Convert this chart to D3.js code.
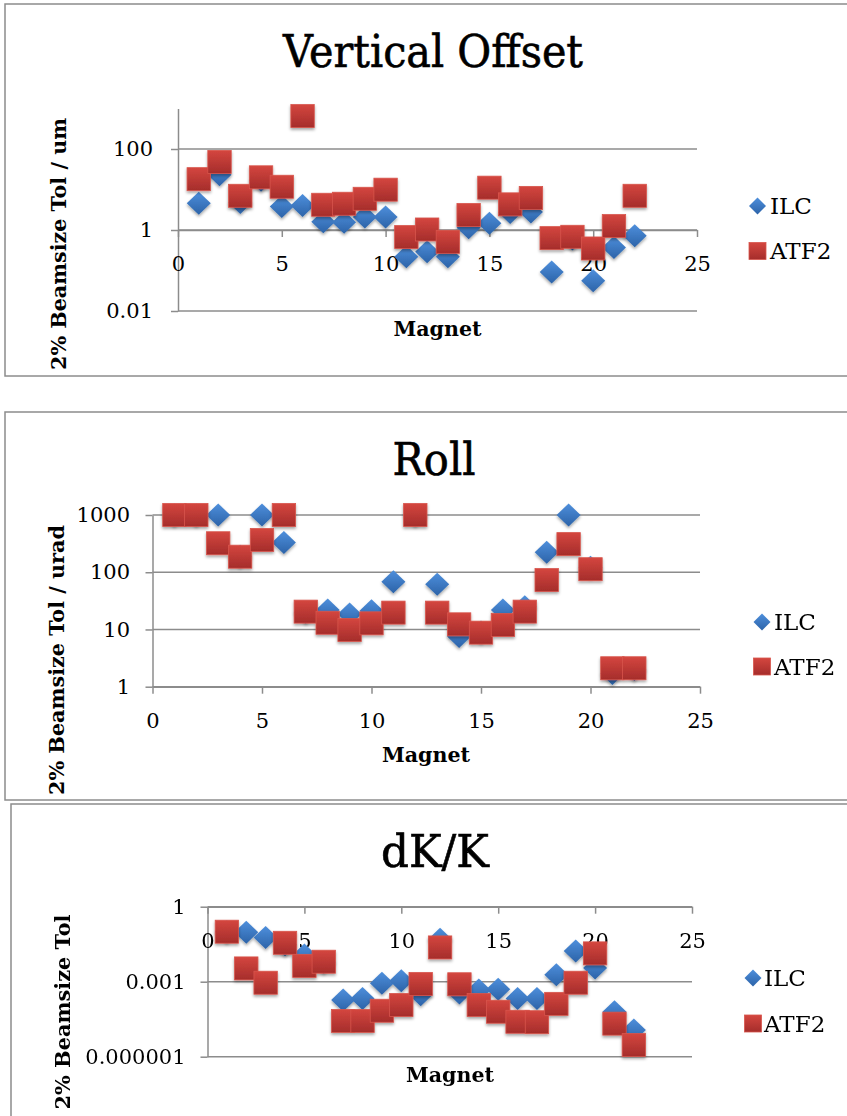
<!DOCTYPE html>
<html>
<head>
<meta charset="utf-8">
<script src="https://cdn.jsdelivr.net/npm/d3@7"></script>
<style>
  html, body { margin: 0; padding: 0; background: #fff; }
  svg { display: block; }
</style>
</head>
<body>
<svg id="chart" width="847" height="1116"></svg>
<script>
// ---- data ----
const magnets = [1, 2, 3, 4, 5, 6, 7, 8, 9, 10, 11, 12, 13, 14, 15, 16, 17, 18, 19, 20, 21, 22];
const xTicks = [0, 5, 10, 15, 20, 25];
const seriesNames = ["ILC", "ATF2"];
const panelTitles = ["Vertical Offset", "Roll", "dK/K"];
const yTitles = ["2% Beamsize Tol / um", "2% Beamsize Tol / urad", "2% Beamsize Tol"];
const xTitle = "Magnet";

// vertical offset tolerance (um)
const offsetIlc  = [4.6, 23, 4.8, 17, 3.8, 4.0, 1.6, 1.55, 2.1, 2.1, 0.22, 0.29, 0.22, 1.14, 1.46, 2.7, 2.8, 0.092, 0.6, 0.056, 0.37, 0.72];
const offsetAtf2 = [18, 48, 7.0, 20, 11.7, 650, 4.2, 4.45, 5.9, 9.9, 0.67, 1.03, 0.51, 2.35, 11.1, 4.3, 6.2, 0.63, 0.68, 0.35, 1.25, 7.0];
const offsetTicks = [0.01, 1, 100];
const offsetTickLabels = ["0.01", "1", "100"];

// roll tolerance (urad)
const rollIlc  = [1000, 1000, 1000, 190, 1000, 330, 20, 21.9, 18.7, 21.3, 68.5, 1000, 61.7, 7.5, 9, 21.9, 25, 224, 1000, 122, 1.7, 2];
const rollAtf2 = [1000, 1000, 321, 187, 367, 1000, 20.5, 13.1, 9.8, 12.8, 19.7, 1000, 19.7, 12.3, 8.8, 12, 20.5, 73, 310, 113, 2.1, 2.1];
const rollTicks = [1, 10, 100, 1000];
const rollTickLabels = ["1", "10", "100", "1000"];

// dK/K tolerance
const dkIlc  = [0.1, 0.094, 0.058, 0.03, 0.0117, 0.006, 0.000186, 0.000215, 0.00086, 0.0011, 0.0003, 0.05, 0.00035, 0.00047, 0.0005, 0.000215, 0.000215, 0.0019, 0.017, 0.0035, 0.000063, 0.0000117];
const dkAtf2 = [0.1, 0.0034, 0.00091, 0.036, 0.0043, 0.0063, 0.000027, 0.000027, 0.000069, 0.000117, 0.00081, 0.0235, 0.00079, 0.000117, 0.000063, 0.000025, 0.000024, 0.00013, 0.00091, 0.0136, 0.000021, 0.00000295];
const dkTicks = [0.000001, 0.001, 1];
const dkTickLabels = ["0.000001", "0.001", "1"];

// ---- layout ----
const panels = [
  { title: panelTitles[0], yTitle: yTitles[0], ilc: offsetIlc, atf2: offsetAtf2,
    ticks: offsetTicks, tickLabels: offsetTickLabels, yDomain: [0.01, 1000],
    frame: { x: 5, y: 4, w: 860, h: 372 },
    xr: [178, 697], yr: [311, 108.5], tickPad: 18,
    titlePos: [433, 67], titleLen: 300,
    yTitlePos: [66, 244], yTitleLen: 252,
    xTitlePos: [437.5, 336],
    legend: { x: 757.5, y1: 206, y2: 251, tx: 770 } },
  { title: panelTitles[1], yTitle: yTitles[1], ilc: rollIlc, atf2: rollAtf2,
    ticks: rollTicks, tickLabels: rollTickLabels, yDomain: [1, 1000],
    frame: { x: 5, y: 412, w: 860, h: 388 },
    xr: [152.5, 700], yr: [686.7, 515], tickPad: 15.5,
    titlePos: [434, 475], titleLen: 83,
    yTitlePos: [64, 660], yTitleLen: 270,
    xTitlePos: [426, 762],
    legend: { x: 762, y1: 622, y2: 666.5, tx: 774 } },
  { title: panelTitles[2], yTitle: yTitles[2], ilc: dkIlc, atf2: dkAtf2,
    ticks: dkTicks, tickLabels: dkTickLabels, yDomain: [0.000001, 1],
    frame: { x: 11, y: 804, w: 860, h: 340 },
    xr: [207.5, 692], yr: [1056.7, 906.7], tickPad: 15,
    titlePos: [435, 867], titleLen: 108,
    yTitlePos: [70, 1012], yTitleLen: 195,
    xTitlePos: [450, 1082],
    legend: { x: 753, y1: 978, y2: 1023.5, tx: 764 } }
];

const GRID = "#8c8c8c";
const SERIF = "'DejaVu Serif', 'Liberation Serif', serif";

const svg = d3.select("#chart");
const defs = svg.append("defs");

function vGrad(id, top, bottom) {
  const g = defs.append("linearGradient").attr("id", id)
    .attr("x1", 0).attr("y1", 0).attr("x2", 0).attr("y2", 1);
  g.append("stop").attr("offset", "0%").attr("stop-color", top);
  g.append("stop").attr("offset", "100%").attr("stop-color", bottom);
}
vGrad("gBlue", "#4e8fdc", "#2c63a8");
vGrad("gRed", "#d4463f", "#a52d2b");

const shadow = defs.append("filter").attr("id", "shadow")
  .attr("x", "-40%").attr("y", "-40%").attr("width", "180%").attr("height", "180%");
shadow.append("feDropShadow").attr("dx", 0).attr("dy", 2).attr("stdDeviation", 1.6)
  .attr("flood-color", "#000").attr("flood-opacity", 0.35);

const diamond = (w, h) => `M0,${-h}L${w},0L0,${h}L${-w},0Z`;

panels.forEach(p => {
  const g = svg.append("g");

  // chart frame
  g.append("rect")
    .attr("x", p.frame.x).attr("y", p.frame.y)
    .attr("width", p.frame.w).attr("height", p.frame.h)
    .attr("fill", "none").attr("stroke", GRID).attr("stroke-width", 1.5);

  const x = d3.scaleLinear().domain([0, 25]).range(p.xr);
  const y = d3.scaleLog().domain(p.yDomain).range(p.yr);

  // horizontal gridlines
  g.append("g").selectAll("line").data(p.ticks).join("line")
    .attr("x1", p.xr[0]).attr("x2", p.xr[1])
    .attr("y1", d => y(d)).attr("y2", d => y(d))
    .attr("stroke", GRID).attr("stroke-width", 1.5);

  // y axis
  const yAxis = d3.axisLeft(y).tickValues(p.ticks)
    .tickFormat((d, i) => p.tickLabels[i])
    .tickSize(7).tickSizeOuter(0).tickPadding(p.tickPad);
  const ya = g.append("g").attr("transform", `translate(${p.xr[0]},0)`).call(yAxis);

  // x axis, crossing at 1
  const xAxis = d3.axisBottom(x).tickValues(xTicks)
    .tickSize(7).tickSizeOuter(0).tickPadding(19);
  const xa = g.append("g").attr("transform", `translate(0,${y(1)})`).call(xAxis);

  [ya, xa].forEach(a => {
    a.selectAll("path.domain").attr("stroke", GRID).attr("stroke-width", 1.5);
    a.selectAll(".tick line").attr("stroke", GRID).attr("stroke-width", 1.5);
    a.selectAll(".tick text").attr("fill", "#000")
      .style("font-family", SERIF).style("font-size", "21px");
  });

  // titles
  g.append("text").text(p.title)
    .attr("x", p.titlePos[0]).attr("y", p.titlePos[1])
    .attr("text-anchor", "middle")
    .attr("textLength", p.titleLen).attr("lengthAdjust", "spacingAndGlyphs")
    .style("font-family", SERIF).style("font-size", "44px")
    .attr("fill", "#000").attr("stroke", "#000").attr("stroke-width", 0.6);

  g.append("text").text(p.yTitle)
    .attr("transform", `translate(${p.yTitlePos[0]},${p.yTitlePos[1]}) rotate(-90)`)
    .attr("text-anchor", "middle")
    .attr("textLength", p.yTitleLen).attr("lengthAdjust", "spacingAndGlyphs")
    .style("font-family", SERIF).style("font-size", "20px").style("font-weight", "bold")
    .attr("fill", "#000");

  g.append("text").text(xTitle)
    .attr("x", p.xTitlePos[0]).attr("y", p.xTitlePos[1])
    .attr("text-anchor", "middle")
    .attr("textLength", 88).attr("lengthAdjust", "spacingAndGlyphs")
    .style("font-family", SERIF).style("font-size", "20px").style("font-weight", "bold")
    .attr("fill", "#000");

  // ILC series (diamonds), then ATF2 (squares) on top
  g.append("g").attr("filter", "url(#shadow)")
    .selectAll("path").data(magnets.map((m, i) => [m, p.ilc[i]])).join("path")
    .attr("d", diamond(12, 11.5))
    .attr("transform", d => `translate(${x(d[0])},${y(d[1])})`)
    .attr("fill", "url(#gBlue)");

  g.append("g").attr("filter", "url(#shadow)")
    .selectAll("rect").data(magnets.map((m, i) => [m, p.atf2[i]])).join("rect")
    .attr("x", d => x(d[0]) - 11.7).attr("y", d => y(d[1]) - 11.5)
    .attr("width", 23.4).attr("height", 23)
    .attr("fill", "url(#gRed)").attr("stroke", "#d8554c").attr("stroke-width", 0.8);

  // legend
  const L = p.legend;
  g.append("path").attr("d", diamond(8.5, 8.5))
    .attr("transform", `translate(${L.x},${L.y1})`).attr("fill", "url(#gBlue)");
  g.append("rect").attr("x", L.x - 8.5).attr("y", L.y2 - 8.5)
    .attr("width", 17).attr("height", 17)
    .attr("fill", "url(#gRed)").attr("stroke", "#d8554c").attr("stroke-width", 0.8);
  [L.y1, L.y2].forEach((ly, i) => {
    g.append("text").text(seriesNames[i])
      .attr("x", L.tx).attr("y", ly + 8)
      .style("font-family", SERIF).style("font-size", "23px").attr("fill", "#000");
  });
});
</script>
</body>
</html>
